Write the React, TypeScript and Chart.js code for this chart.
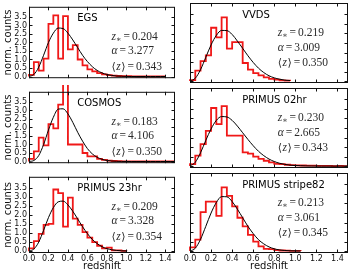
import React, { useEffect, useRef } from 'react';
import { Chart, registerables } from 'chart.js';

Chart.register(...registerables);
Chart.defaults.font.family = '"DejaVu Sans", sans-serif';

// Histogram bin width (redshift) and sample grid of the fitted curves
const BIN_WIDTH = 0.05;
const CURVE_STEP = 0.05;

const X_TICKS = [0, 0.2, 0.4, 0.6, 0.8, 1.0, 1.2, 1.4];
const Y_TICKS = [0, 0.5, 1.0, 1.5, 2.0, 2.5, 3.0, 3.5];
const X_RANGE = [0, 1.5];
const Y_RANGE = [-0.1, 4.1];

// Normalised counts per 0.05 bin, starting at z = 0
const EGS_COUNTS = [0.1, 0.85, 0.35, 1.05, 3.1, 3.6, 1.05, 3.55, 1.6, 1.85, 1.0, 0.65, 0.42, 0.3, 0.2, 0.12, 0.08, 0.05, 0.03, 0.02, 0.02, 0.01, 0, 0, 0.01, 0, 0, 0];
const VVDS_COUNTS = [0.05, 0.55, 1.05, 1.35, 2.8, 2.3, 3.35, 1.7, 2.05, 2.05, 0.95, 0.6, 0.42, 0.3, 0.2, 0.12, 0.08, 0.04, 0.02];
const COSMOS_COUNTS = [0.15, 0.6, 1.4, 0.95, 2.2, 1.95, 3.35, 4.6, 1.0, 1.0, 1.0, 0.5, 0.3, 0.3, 0.15, 0.1, 0.05, 0.03, 0.02, 0.01, 0.01, 0, 0, 0, 0, 0, 0, 0, 0, 0];
const P02_COUNTS = [0.1, 0.55, 1.15, 1.85, 3.05, 2.2, 3.15, 1.6, 1.6, 1.6, 0.72, 0.65, 0.5, 0.38, 0.28, 0.2, 0.12, 0.1, 0.07, 0.05, 0.04, 0.03, 0.02, 0.02, 0.01, 0.01, 0.01, 0, 0.01, 0];
const P23_COUNTS = [0.15, 0.55, 0.95, 1.45, 1.5, 3.4, 3.2, 1.35, 2.95, 1.8, 1.45, 1.05, 0.75, 0.5, 0.3, 0.15, 0.2, 0.05, 0.05, 0.02];
const S82_COUNTS = [0.2, 0.6, 2.05, 2.6, 2.6, 1.85, 3.35, 2.9, 2.35, 1.75, 1.3, 0.85, 0.5, 0.25, 0.12, 0.1, 0.05, 0.03, 0.02, 0.01, 0.01];

// Fitted n(z) sampled every 0.05 in redshift, starting at z = 0
const EGS_CURVE = [0, 0.12, 0.55, 1.25, 2.0, 2.55, 2.85, 2.82, 2.55, 2.15, 1.7, 1.25, 0.88, 0.58, 0.36, 0.21, 0.12, 0.06, 0.03, 0.015, 0.005, 0, 0, 0, 0, 0, 0, 0, 0];
const VVDS_CURVE = [0, 0.15, 0.6, 1.25, 1.9, 2.4, 2.66, 2.65, 2.45, 2.1, 1.72, 1.33, 0.98, 0.68, 0.45, 0.28, 0.17, 0.1, 0.05, 0.03];
const COSMOS_CURVE = [0, 0.06, 0.35, 1.0, 1.85, 2.6, 3.08, 3.1, 2.8, 2.3, 1.72, 1.2, 0.76, 0.45, 0.25, 0.13, 0.06, 0.03, 0.012, 0.005, 0.002, 0, 0, 0, 0, 0, 0, 0, 0, 0, 0];
const P02_CURVE = [0, 0.2, 0.7, 1.35, 1.95, 2.4, 2.6, 2.58, 2.4, 2.1, 1.75, 1.4, 1.07, 0.78, 0.55, 0.37, 0.24, 0.15, 0.09, 0.05, 0.03, 0.02, 0.01, 0.005, 0.003, 0, 0, 0, 0, 0, 0];
const P23_CURVE = [0, 0.12, 0.5, 1.15, 1.85, 2.4, 2.72, 2.76, 2.55, 2.2, 1.78, 1.35, 0.97, 0.65, 0.42, 0.25, 0.14, 0.08, 0.04, 0.02, 0.01];
const S82_CURVE = [0, 0.15, 0.62, 1.3, 2.0, 2.55, 2.86, 2.85, 2.6, 2.2, 1.75, 1.3, 0.92, 0.6, 0.38, 0.22, 0.12, 0.06, 0.03, 0.015, 0.01, 0.005];

const SURVEY_NAMES = ['EGS', 'VVDS', 'COSMOS', 'PRIMUS 02hr', 'PRIMUS 23hr', 'PRIMUS stripe82'];
const Z_STAR = ['0.204', '0.219', '0.183', '0.230', '0.209', '0.213'];
const ALPHA = ['3.277', '3.009', '4.106', '2.665', '3.328', '3.061'];
const Z_MEAN = ['0.343', '0.350', '0.350', '0.343', '0.354', '0.345'];
const ALL_COUNTS = [EGS_COUNTS, VVDS_COUNTS, COSMOS_COUNTS, P02_COUNTS, P23_COUNTS, S82_COUNTS];
const ALL_CURVES = [EGS_CURVE, VVDS_CURVE, COSMOS_CURVE, P02_CURVE, P23_CURVE, S82_CURVE];

// Canvas geometry per grid column / row
const COLS = [
  { x: 0, w: 176, axisW: 29, padR: 1, textFrac: 0.565 },
  { x: 176, w: 174, axisW: 14, padR: 2, textFrac: 0.555 },
];
const ROWS = [
  { y: 0, h: 85, padT: 3, axisH: 2 },
  { y: 85, h: 85, padT: 3, axisH: 2 },
  { y: 170, h: 101, padT: 3, axisH: 18 },
];

// Outline of a step histogram: rises from the baseline at z = 0, one
// horizontal run per bin, and drops back to the baseline after the last bin.
function stepPoints(counts: number[]) {
  const pts = [{ x: 0, y: 0 }];
  counts.forEach((c, i) => pts.push({ x: i * BIN_WIDTH, y: c }));
  const end = counts.length * BIN_WIDTH;
  pts.push({ x: end, y: counts[counts.length - 1] });
  pts.push({ x: end, y: 0 });
  return pts;
}

function curvePoints(values: number[]) {
  return values.map((v, i) => ({ x: +(i * CURVE_STEP).toFixed(3), y: v }));
}

const SERIF = '"Liberation Serif", "DejaVu Serif", serif';
const F_REG = `11.5px ${SERIF}`;
const F_ITAL = `italic 11.5px ${SERIF}`;
const F_SUB = `8px ${SERIF}`;
const F_BRACKET = `11px "DejaVu Sans", sans-serif`;

type Part = { t: string; font: string; dy?: number; gap?: number };

function drawParts(ctx: CanvasRenderingContext2D, x: number, y: number, parts: Part[]) {
  let cx = x;
  for (const p of parts) {
    ctx.font = p.font;
    cx += p.gap || 0;
    ctx.fillText(p.t, cx, y + (p.dy || 0));
    cx += ctx.measureText(p.t).width;
  }
}

const panelDecor = {
  id: 'panelDecor',
  afterDatasetsDraw(chart: any, _args: any, opts: any) {
    const { ctx, chartArea: a, scales } = chart;
    const xs = scales.x;
    const ys = scales.y;
    ctx.save();
    // frame
    ctx.strokeStyle = '#111';
    ctx.lineWidth = 1;
    ctx.strokeRect(a.left + 0.5, a.top + 0.5, a.right - a.left - 1, a.bottom - a.top - 1);
    // inward tick marks on all four sides
    const L = 3.5;
    ctx.beginPath();
    for (const v of X_TICKS) {
      const px = Math.round(xs.getPixelForValue(v)) + 0.5;
      ctx.moveTo(px, a.bottom);
      ctx.lineTo(px, a.bottom - L);
      ctx.moveTo(px, a.top);
      ctx.lineTo(px, a.top + L);
    }
    for (const v of Y_TICKS) {
      const py = Math.round(ys.getPixelForValue(v)) + 0.5;
      ctx.moveTo(a.left, py);
      ctx.lineTo(a.left + L, py);
      ctx.moveTo(a.right, py);
      ctx.lineTo(a.right - L, py);
    }
    ctx.stroke();

    const w = a.right - a.left;
    // survey name
    ctx.fillStyle = '#000';
    ctx.textBaseline = 'middle';
    ctx.textAlign = 'left';
    ctx.font = '10px "DejaVu Sans", sans-serif';
    ctx.fillText(opts.title, a.left + 0.33 * w, a.top + 12);

    // fit parameters
    ctx.fillStyle = '#2a2a2a';
    const tx = a.left + opts.textFrac * w;
    drawParts(ctx, tx, a.top + 30, [
      { t: 'z', font: F_ITAL },
      { t: '∗', font: F_SUB, dy: 3 },
      { t: '=', font: F_REG, gap: 2 },
      { t: opts.zStar, font: F_REG, gap: 2 },
    ]);
    drawParts(ctx, tx, a.top + 44.5, [
      { t: 'α', font: F_ITAL },
      { t: '=', font: F_REG, gap: 2 },
      { t: opts.alpha, font: F_REG, gap: 2 },
    ]);
    drawParts(ctx, tx, a.top + 60, [
      { t: '⟨', font: F_BRACKET },
      { t: 'z', font: F_ITAL, gap: 0.5 },
      { t: '⟩', font: F_BRACKET, gap: 0.5 },
      { t: '=', font: F_REG, gap: 2 },
      { t: opts.zMean, font: F_REG, gap: 2 },
    ]);
    ctx.restore();
  },
};

function Panel({ index }: { index: number }) {
  const ref = useRef<HTMLCanvasElement>(null);
  const col = COLS[index % 2];
  const row = ROWS[Math.floor(index / 2)];
  const isLeft = index % 2 === 0;
  const isBottom = Math.floor(index / 2) === 2;

  useEffect(() => {
    if (!ref.current) return;
    const chart = new Chart(ref.current, {
      type: 'line',
      data: {
        datasets: [
          {
            data: curvePoints(ALL_CURVES[index]),
            borderColor: '#000',
            borderWidth: 1,
            pointRadius: 0,
            fill: false,
            cubicInterpolationMode: 'monotone',
          },
          {
            data: stepPoints(ALL_COUNTS[index]),
            borderColor: '#f01818',
            borderWidth: 1.8,
            pointRadius: 0,
            fill: false,
            // horizontal run first, then the vertical edge
            stepped: 'before',
            clip: false,
          },
        ],
      } as any,
      options: {
        animation: false,
        responsive: false,
        maintainAspectRatio: false,
        devicePixelRatio: 1,
        events: [],
        layout: { padding: { left: 0, right: col.padR, top: row.padT, bottom: 0 } },
        plugins: {
          legend: { display: false },
          tooltip: { enabled: false },
          panelDecor: {
            title: SURVEY_NAMES[index],
            zStar: Z_STAR[index],
            alpha: ALPHA[index],
            zMean: Z_MEAN[index],
            textFrac: col.textFrac,
          },
        } as any,
        scales: {
          x: {
            type: 'linear',
            min: X_RANGE[0],
            max: X_RANGE[1],
            afterBuildTicks: (s: any) => {
              s.ticks = X_TICKS.map((v) => ({ value: v }));
            },
            afterFit: (s: any) => {
              s.height = row.axisH;
            },
            grid: { display: false, drawTicks: false },
            border: { display: false },
            ticks: {
              display: isBottom,
              autoSkip: false,
              maxRotation: 0,
              padding: 1,
              color: '#111',
              font: { size: 8 },
              callback: (v: any) => Number(v).toFixed(1),
            },
            title: {
              display: isBottom,
              text: 'redshift',
              color: '#111',
              font: { size: 10, lineHeight: 1 },
              padding: 0,
            },
          },
          y: {
            type: 'linear',
            min: Y_RANGE[0],
            max: Y_RANGE[1],
            afterBuildTicks: (s: any) => {
              s.ticks = Y_TICKS.map((v) => ({ value: v }));
            },
            afterFit: (s: any) => {
              s.width = col.axisW;
            },
            grid: { display: false, drawTicks: false },
            border: { display: false },
            ticks: {
              display: isLeft,
              autoSkip: false,
              padding: 2,
              color: '#111',
              font: { size: 8 },
              callback: (v: any) => Number(v).toFixed(1),
            },
            title: {
              display: isLeft,
              text: 'norm. counts',
              color: '#111',
              font: { size: 10, lineHeight: 1.2 },
              padding: { top: 2, bottom: 0 },
            },
          },
        },
      } as any,
      plugins: [panelDecor],
    });
    return () => chart.destroy();
  }, [index]);

  return (
    <canvas
      ref={ref}
      width={col.w}
      height={row.h}
      style={{ position: 'absolute', left: col.x, top: row.y, width: col.w, height: row.h }}
    />
  );
}

export default function App() {
  return (
    <div style={{ position: 'fixed', left: 0, top: 0, width: 350, height: 271, background: '#fff' }}>
      {SURVEY_NAMES.map((_, i) => (
        <Panel key={i} index={i} />
      ))}
    </div>
  );
}
